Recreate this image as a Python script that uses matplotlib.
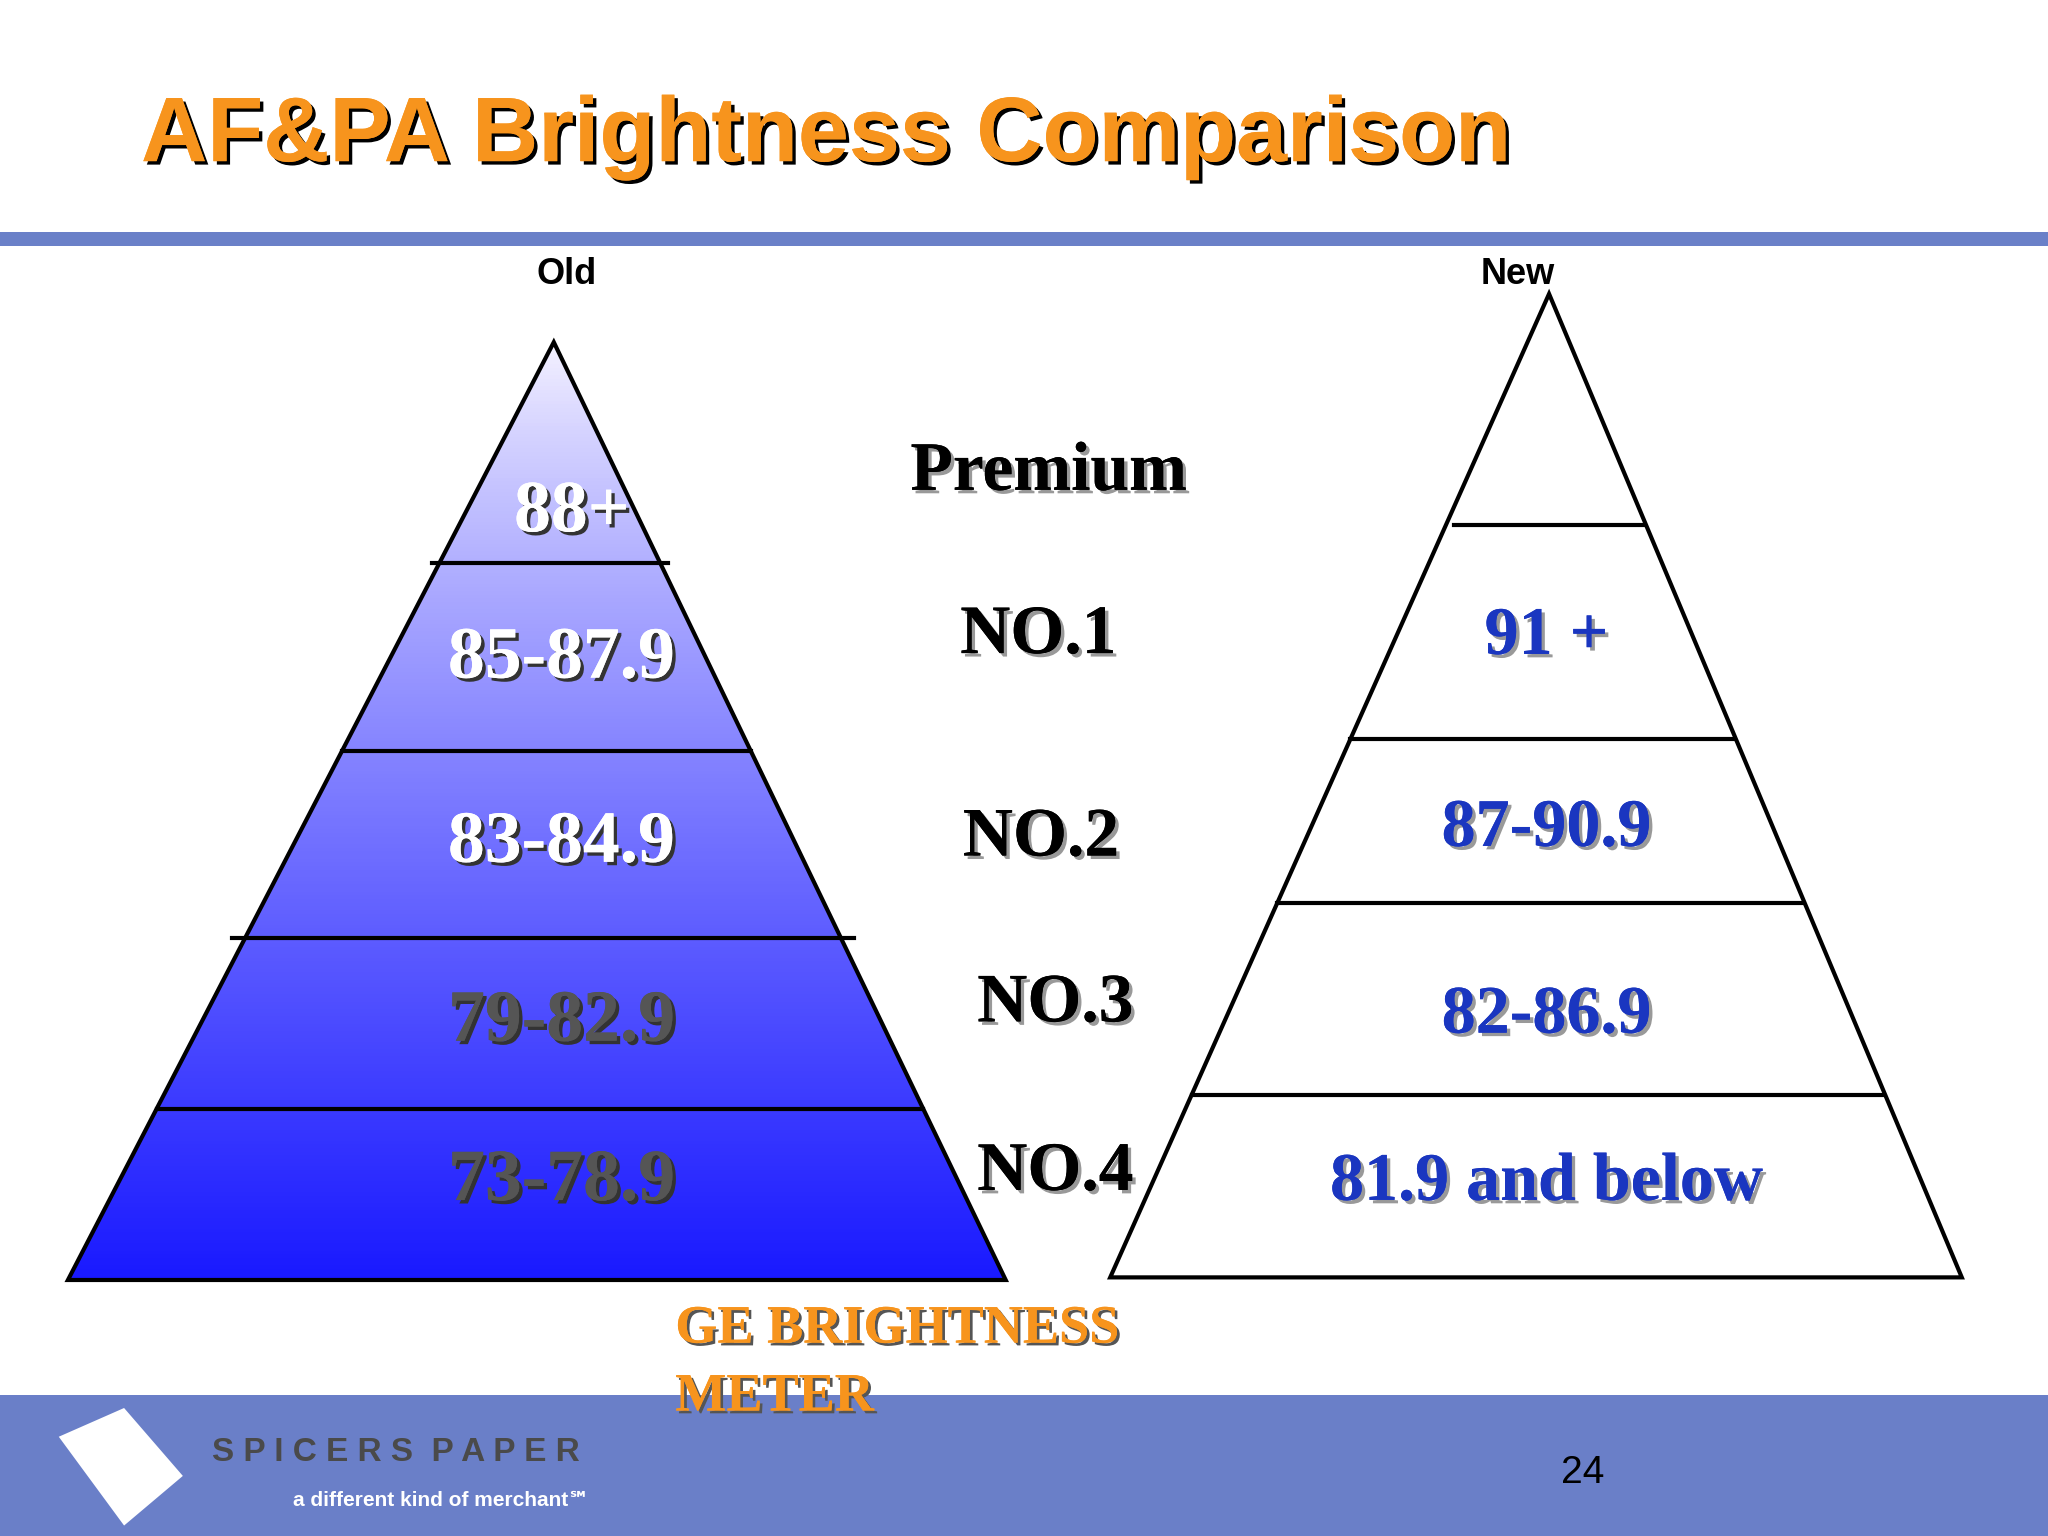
import matplotlib
matplotlib.use("Agg")
import matplotlib.pyplot as plt
import numpy as np
from matplotlib.patches import Polygon, Rectangle
import matplotlib.patheffects as pe

old_labels = ["88+", "85-87.9", "83-84.9", "79-82.9", "73-78.9"]
new_labels = ["91 +", "87-90.9", "82-86.9", "81.9 and below"]
grades = ["Premium", "NO.1", "NO.2", "NO.3", "NO.4"]

W, H = 1568, 1176
fig = plt.figure(figsize=(20.48, 15.36), dpi=100)
ax = fig.add_axes([0, 0, 1, 1])
ax.set_xlim(0, W); ax.set_ylim(H, 0); ax.axis("off")

def shadow(c="black", o=(2.5, -2.5)):
    return [pe.withSimplePatchShadow(offset=o, shadow_rgbFace=c, alpha=1), pe.Normal()]

# header / footer
ax.add_patch(Rectangle((0, 178), W, 10, color="#6a80c8", lw=0))
ax.add_patch(Rectangle((0, 1068), W, 110, color="#6a7fc8", lw=0))
ax.text(108, 105, "AF&PA Brightness Comparison", fontsize=66, fontweight="bold",
        color="#f7941d", family="Liberation Sans", va="center", path_effects=shadow())

ax.text(434, 210, "Old", fontsize=26, fontweight="bold", ha="center", va="center", family="Liberation Sans")
ax.text(1162, 210, "New", fontsize=26, fontweight="bold", ha="center", va="center", family="Liberation Sans")

# left pyramid with gradient
apex, bl, br = (424, 262), (52, 980), (770, 980)
grad = np.linspace(0, 1, 256)[:, None]
top = np.array([0.97, 0.96, 1.0]); bot = np.array([0.1, 0.1, 1.0])
img = top + (bot - top) * grad[:, :, None] ** 0.8
im = ax.imshow(img, extent=(52, 770, 980, 262), aspect="auto", zorder=1)
tri = Polygon([apex, br, bl], closed=True, fc="none", ec="black", lw=3, zorder=3)
ax.add_patch(tri); im.set_clip_path(tri)

def xs_at(y, a, l, r):
    t = (y - a[1]) / (l[1] - a[1])
    return a[0] + (l[0] - a[0]) * t, a[0] + (r[0] - a[0]) * t

for y, ext in zip([431, 575, 718, 849], [6, 0, 10, 0]):
    x0, x1 = xs_at(y, apex, bl, br)
    ax.plot([x0 - ext, x1 + ext], [y, y], color="black", lw=3, zorder=3)

old_y = [393, 505, 646, 783, 905]
old_c = ["white", "white", "white", "#555555", "#555555"]
old_x = [438, 430, 430, 430, 430]
for lab, y, c, x in zip(old_labels, old_y, old_c, old_x):
    ax.text(x, y, lab, fontsize=53, fontweight="bold", color=c, ha="center", va="center",
            family="Liberation Serif", zorder=4, path_effects=shadow("#333333"))

# right pyramid
apex2, bl2, br2 = (1186, 225), (850, 978), (1502, 978)
ax.add_patch(Polygon([apex2, br2, bl2], closed=True, fc="white", ec="black", lw=3, zorder=3))
for y, inset in zip([402, 566, 691, 838], [6, 0, 0, 0]):
    x0, x1 = xs_at(y, apex2, bl2, br2)
    ax.plot([x0 + inset, x1 - 2], [y, y], color="black", lw=3, zorder=3)
new_y = [488, 635, 778, 906]
for lab, y in zip(new_labels, new_y):
    ax.text(1184, y, lab, fontsize=49, fontweight="bold", color="#1a36c0", ha="center", va="center",
            family="Liberation Serif", zorder=4, path_effects=shadow("#999999"))

grade_xy = [(803, 362), (795, 487), (797, 642), (808, 769), (808, 898)]
for g, (x, y) in zip(grades, grade_xy):
    ax.text(x, y, g, fontsize=50, fontweight="bold", color="black", ha="center", va="center",
            family="Liberation Serif", zorder=4, path_effects=shadow("#999999"))

for txt, y in [("GE BRIGHTNESS", 1018), ("METER", 1070)]:
    ax.text(517, y, txt, fontsize=39, fontweight="bold", color="#f7941d",
            ha="left", va="center", family="Liberation Serif",
            path_effects=shadow("#555555", (2, -2)), zorder=5)

ax.text(1212, 1128, "24", fontsize=28, ha="center", va="center", family="Liberation Sans")
ax.text(162, 1112, "S P I C E R S  P A P E R", fontsize=24, fontweight="bold", color="#4a4a4a",
        ha="left", va="center", family="Liberation Sans")
ax.text(224, 1149, "a different kind of merchant\u2120", fontsize=15, fontweight="bold", color="white",
        ha="left", va="center", family=["Liberation Sans", "DejaVu Sans"])
ax.add_patch(Polygon([(45, 1100), (95, 1078), (140, 1130), (95, 1168)], closed=True, fc="white", ec="none"))

fig.savefig("out.png", dpi=100)
